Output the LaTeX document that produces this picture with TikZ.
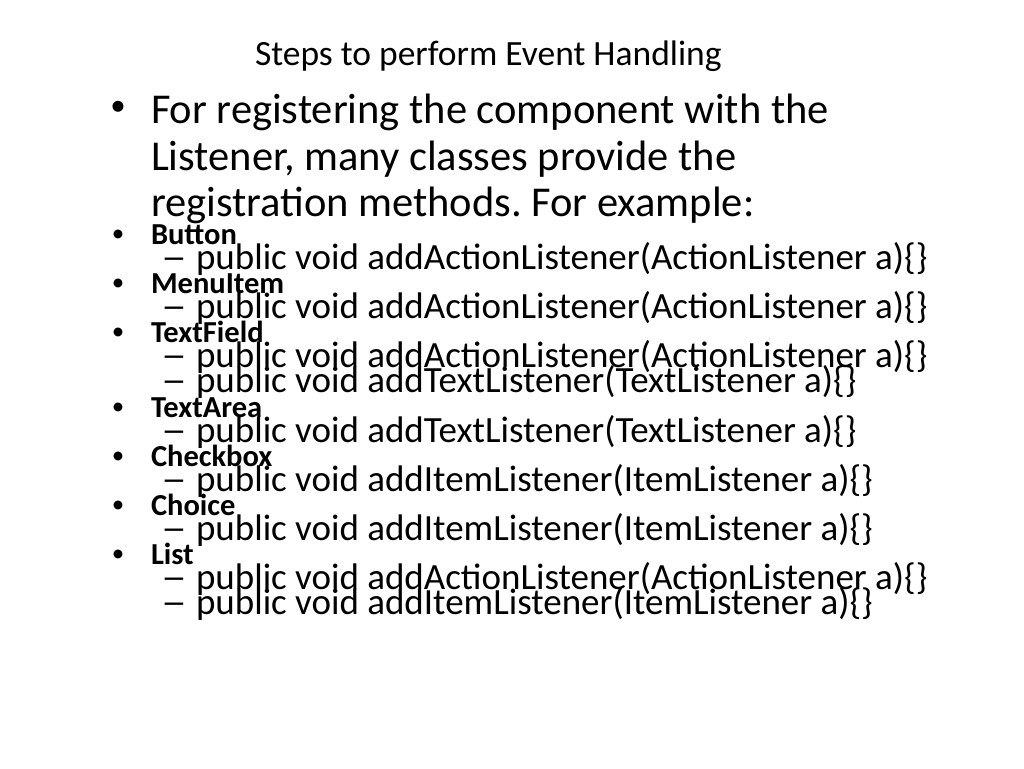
\documentclass[tikz,border=0pt]{standalone}
\usepackage{fontspec}
\setmainfont{Carlito}
\usepackage{tikz}
\frenchspacing

\begin{document}
\begin{tikzpicture}[x=1pt,y=-1pt,
  txt/.style={anchor=base west,inner sep=0pt,outer sep=0pt},
  big/.style={txt,font=\fontsize{42.5}{47}\selectfont},
  small/.style={txt,font=\fontsize{37}{25}\selectfont},
  lbl/.style={txt,font=\fontsize{30.5}{25}\selectfont\bfseries},
  dot/.style={anchor=center,inner sep=0pt,font=\fontsize{#1}{#1}\selectfont}]
  \useasboundingbox[fill=white] (0,0) rectangle (1024,768);
  \node[txt,font=\fontsize{35.5}{36}\selectfont] (hd) at (255,65) {Steps to perform Event Handling};
  % intro bullet
  \node[dot=31] (dot0) at (118,108) {\textbullet};
  \node[big] (intro1) at (151,123) {For registering the component with the};
  \node[big] (intro2) at (151,170) {Listener, many classes provide the};
  \node[big] (intro3) at (151,216) {registration methods. For example:};
  % class names
  \foreach \n/\y in {Button/244,MenuItem/293,TextField/342,TextArea/417,Checkbox/466,Choice/515,List/564} {
    \node[dot=25] (dot-\n) at (118,\y-8) {\textbullet};
    \node[lbl] (lbl-\n) at (151,\y) {\n};
  }
  % methods
  \foreach \i/\y/\m in {1/269/addActionListener(ActionListener a),
                        2/318/addActionListener(ActionListener a),
                        3/367/addActionListener(ActionListener a),
                        4/392/addTextListener(TextListener a),
                        5/442/addTextListener(TextListener a),
                        6/491/addItemListener(ItemListener a),
                        7/540/addItemListener(ItemListener a),
                        8/589/addActionListener(ActionListener a),
                        9/614/addItemListener(ItemListener a)} {
    \node[small] (dash-\i) at (161,\y) {\scalebox{1.4}[1]{–}};
    \node[small] (m-\i) at (196,\y) {public void \m\{\}};
  }
\end{tikzpicture}
\end{document}
